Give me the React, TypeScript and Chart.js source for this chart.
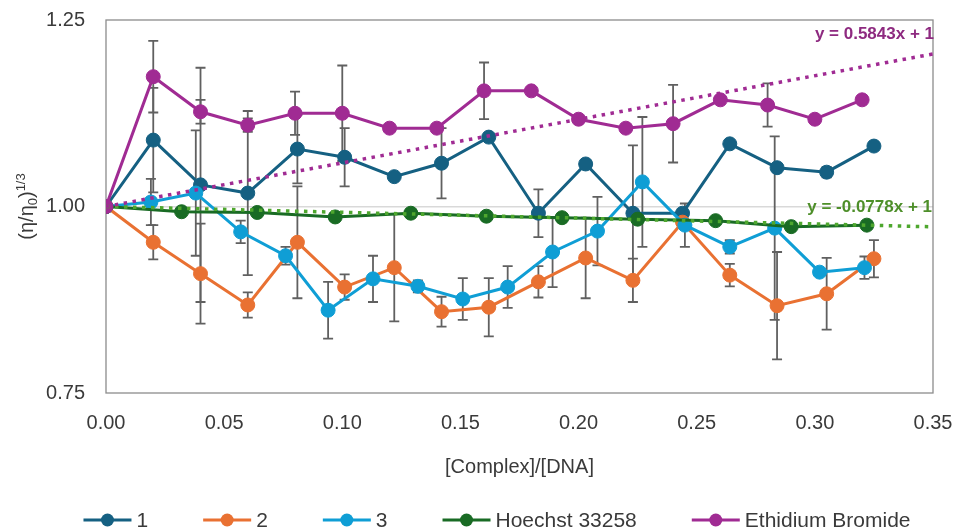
import React, { useEffect, useRef } from 'react';
import { Chart, registerables } from 'chart.js';

Chart.register(...registerables);

// ---- data ----
const xSeries12 = [0, 0.020, 0.040, 0.060, 0.081, 0.101, 0.122, 0.142, 0.162, 0.183, 0.203, 0.223, 0.244, 0.264, 0.284, 0.305, 0.325];
const ySeries1 = [1.000, 1.089, 1.029, 1.018, 1.077, 1.066, 1.040, 1.058, 1.093, 0.991, 1.057, 0.991, 0.991, 1.084, 1.052, 1.046, 1.081];
const errSeries1 = [0, 0.070, 0.157, 0.110, 0.046, 0.039, 0, 0.047, 0, 0.032, 0, 0.091, 0, 0, 0, 0.007, 0];
const ySeries2 = [1.000, 0.952, 0.910, 0.868, 0.952, 0.892, 0.918, 0.859, 0.865, 0.899, 0.931, 0.901, 0.979, 0.908, 0.867, 0.883, 0.930];
const errSeries2 = [0, 0.023, 0.067, 0.017, 0.075, 0.017, 0.072, 0.020, 0.039, 0.021, 0.054, 0.029, 0, 0.015, 0.072, 0.048, 0.025];
const xSeries3 = [0, 0.019, 0.038, 0.057, 0.076, 0.094, 0.113, 0.132, 0.151, 0.170, 0.189, 0.208, 0.227, 0.245, 0.264, 0.283, 0.302, 0.321];
const ySeries3 = [1.000, 1.006, 1.018, 0.966, 0.934, 0.861, 0.903, 0.893, 0.876, 0.892, 0.939, 0.967, 1.033, 0.975, 0.946, 0.971, 0.912, 0.918];
const errSeries3 = [0, 0.031, 0.084, 0.015, 0.012, 0.038, 0.031, 0.008, 0.028, 0.028, 0.047, 0.046, 0.087, 0.029, 0.009, 0.123, 0, 0.015];
const xHoechst = [0, 0.032, 0.064, 0.097, 0.129, 0.161, 0.193, 0.225, 0.258, 0.290, 0.322];
const yHoechst = [1.000, 0.993, 0.992, 0.986, 0.991, 0.987, 0.985, 0.983, 0.981, 0.973, 0.975];
const xEthidium = [0, 0.02, 0.04, 0.06, 0.08, 0.10, 0.12, 0.14, 0.16, 0.18, 0.20, 0.22, 0.24, 0.26, 0.28, 0.30, 0.32];
const yEthidium = [1.000, 1.174, 1.127, 1.109, 1.125, 1.125, 1.105, 1.105, 1.155, 1.155, 1.117, 1.105, 1.111, 1.143, 1.136, 1.117, 1.143];
const errEthidium = [0, 0.048, 0.016, 0.009, 0.029, 0.064, 0, 0, 0.038, 0, 0, 0, 0.052, 0, 0.029, 0, 0];

const seriesNames = ['1', '2', '3', 'Hoechst 33258', 'Ethidium Bromide'];
const seriesColors = ['#156082', '#E97132', '#0F9ED5', '#196B24', '#A02B93'];

const trendEthidium = { slope: 0.5843, intercept: 1, label: 'y = 0.5843x + 1' };
const trendHoechst = { slope: -0.0778, intercept: 1, label: 'y = -0.0778x + 1' };

const xMin = 0, xMax = 0.35, xStep = 0.05;
const yMin = 0.75, yMax = 1.25, yStep = 0.25;

const FONT = "'Liberation Sans', Arial, sans-serif";
const TEXT = '#3a3a3a';

function pts(xs: number[], ys: number[]) {
  return xs.map((x, i) => ({ x, y: ys[i] }));
}
function trendPts(t: { slope: number; intercept: number }) {
  return [xMin, xMax].map((x) => ({ x, y: t.slope * x + t.intercept }));
}

function seriesDs(i: number, data: any[], errors: number[] | null, order: number) {
  const c = seriesColors[i];
  return {
    label: seriesNames[i],
    data,
    errors,
    showLine: true,
    borderColor: c,
    backgroundColor: c,
    pointBackgroundColor: c,
    pointBorderColor: c,
    pointRadius: 7,
    pointBorderWidth: 1,
    borderWidth: 3,
    order,
  };
}

const errorBarsPlugin = {
  id: 'errorBars',
  beforeDatasetsDraw(chart: any) {
    const { ctx } = chart;
    const ys = chart.scales.y;
    ctx.save();
    ctx.strokeStyle = '#606060';
    ctx.lineWidth = 1.8;
    chart.data.datasets.forEach((ds: any, di: number) => {
      if (!ds.errors) return;
      const meta = chart.getDatasetMeta(di);
      meta.data.forEach((pt: any, i: number) => {
        const e = ds.errors[i];
        if (!e) return;
        const v = ds.data[i].y;
        const top = ys.getPixelForValue(v + e);
        const bot = ys.getPixelForValue(v - e);
        const x = pt.x;
        ctx.beginPath();
        ctx.moveTo(x, top); ctx.lineTo(x, bot);
        ctx.moveTo(x - 5, top); ctx.lineTo(x + 5, top);
        ctx.moveTo(x - 5, bot); ctx.lineTo(x + 5, bot);
        ctx.stroke();
      });
    });
    const a = chart.chartArea;
    ctx.strokeStyle = '#8c8c8c';
    ctx.lineWidth = 1.3;
    ctx.strokeRect(a.left, a.top, a.right - a.left, a.bottom - a.top);
    ctx.restore();
  },
};

const annotationsPlugin = {
  id: 'annots',
  afterDraw(chart: any) {
    const { ctx } = chart;
    const a = chart.chartArea;
    ctx.save();
    ctx.font = `bold 17px ${FONT}`;
    ctx.textAlign = 'right';
    ctx.textBaseline = 'middle';
    ctx.fillStyle = '#8E2A80';
    ctx.fillText(trendEthidium.label, a.right + 1, 34);
    ctx.fillStyle = '#4E8F2A';
    ctx.fillText(trendHoechst.label, a.right - 1, 207);

    ctx.font = `20px ${FONT}`;
    ctx.fillStyle = TEXT;
    ctx.textAlign = 'center';
    ctx.fillText('[Complex]/[DNA]', (a.left + a.right) / 2, 467);

    const parts = [
      { t: '(η/η', size: 20, dy: 0 },
      { t: '0', size: 13, dy: 4 },
      { t: ')', size: 20, dy: 0 },
      { t: '1/3', size: 13, dy: -8 },
    ];
    let total = 0;
    parts.forEach((p) => { ctx.font = `${p.size}px ${FONT}`; total += ctx.measureText(p.t).width; });
    ctx.translate(26, (a.top + a.bottom) / 2);
    ctx.rotate(-Math.PI / 2);
    ctx.textAlign = 'left';
    ctx.textBaseline = 'alphabetic';
    let cx = -total / 2;
    parts.forEach((p) => {
      ctx.font = `${p.size}px ${FONT}`;
      ctx.fillText(p.t, cx, 7 + p.dy);
      cx += ctx.measureText(p.t).width;
    });
    ctx.setTransform(1, 0, 0, 1, 0, 0);

    ctx.font = `21px ${FONT}`;
    ctx.textBaseline = 'middle';
    ctx.textAlign = 'left';
    const lineLen = 48, gapText = 5, gapItem = 55;
    const widths = seriesNames.map((n) => lineLen + gapText + ctx.measureText(n).width);
    const totalW = widths.reduce((s, w) => s + w, 0) + gapItem * (widths.length - 1);
    let lx = 497 - totalW / 2;
    const ly = 520;
    seriesNames.forEach((n, i) => {
      ctx.strokeStyle = seriesColors[i];
      ctx.lineWidth = 3;
      ctx.beginPath();
      ctx.moveTo(lx, ly); ctx.lineTo(lx + lineLen, ly);
      ctx.stroke();
      ctx.fillStyle = seriesColors[i];
      ctx.beginPath();
      ctx.arc(lx + lineLen / 2, ly, 6.5, 0, Math.PI * 2);
      ctx.fill();
      ctx.fillStyle = TEXT;
      ctx.fillText(n, lx + lineLen + gapText, ly + 1);
      lx += widths[i] + gapItem;
    });
    ctx.restore();
  },
};

export default function App() {
  const ref = useRef<HTMLCanvasElement>(null);
  useEffect(() => {
    document.body.style.margin = '0';
    const canvas = ref.current!;
    const chart = new Chart(canvas, {
      type: 'scatter',
      data: {
        datasets: [
          seriesDs(0, pts(xSeries12, ySeries1), errSeries1, 5),
          seriesDs(1, pts(xSeries12, ySeries2), errSeries2, 4),
          seriesDs(2, pts(xSeries3, ySeries3), errSeries3, 3),
          seriesDs(3, pts(xHoechst, yHoechst), null, 2),
          seriesDs(4, pts(xEthidium, yEthidium), errEthidium, 1),
          {
            label: 'trend Ethidium',
            data: trendPts(trendEthidium),
            showLine: true,
            borderColor: '#A02B93',
            borderWidth: 3.5,
            borderDash: [3.5, 5.5],
            pointRadius: 0,
            order: 0,
          },
          {
            label: 'trend Hoechst',
            data: trendPts(trendHoechst),
            showLine: true,
            borderColor: '#4EA72E',
            borderWidth: 3.5,
            borderDash: [3.5, 5.5],
            pointRadius: 0,
            order: 0,
          },
        ] as any,
      },
      options: {
        animation: false,
        responsive: false,
        devicePixelRatio: 1,
        layout: { padding: { top: 20, right: 22, left: 0, bottom: 0 } },
        plugins: { legend: { display: false }, tooltip: { enabled: false } },
        scales: {
          x: {
            type: 'linear',
            min: xMin,
            max: xMax,
            grid: { display: false },
            border: { display: false },
            ticks: {
              stepSize: xStep,
              padding: 10,
              color: TEXT,
              font: { size: 20, family: FONT },
              callback: (v: any) => Number(v).toFixed(2),
            },
            afterFit: (s: any) => { s.height = 138; s.paddingLeft = 0; s.paddingRight = 0; },
          },
          y: {
            min: yMin,
            max: yMax,
            grid: {
              drawTicks: false,
              lineWidth: 1.5,
              color: (c: any) => (Math.abs(c.tick.value - 1) < 1e-6 ? '#d9d9d9' : 'rgba(0,0,0,0)'),
            },
            border: { display: false },
            ticks: {
              stepSize: yStep,
              padding: 21,
              color: TEXT,
              font: { size: 20, family: FONT },
              callback: (v: any) => Number(v).toFixed(2),
            },
            afterFit: (s: any) => { s.width = 106; s.paddingTop = 0; s.paddingBottom = 0; },
          },
        },
      } as any,
      plugins: [errorBarsPlugin, annotationsPlugin],
    });
    return () => chart.destroy();
  }, []);
  return (
    <div style={{ position: 'fixed', left: 0, top: 0, width: 955, height: 531, background: '#fff' }}>
      <canvas ref={ref} width={955} height={531} style={{ width: 955, height: 531, display: 'block' }} />
    </div>
  );
}
